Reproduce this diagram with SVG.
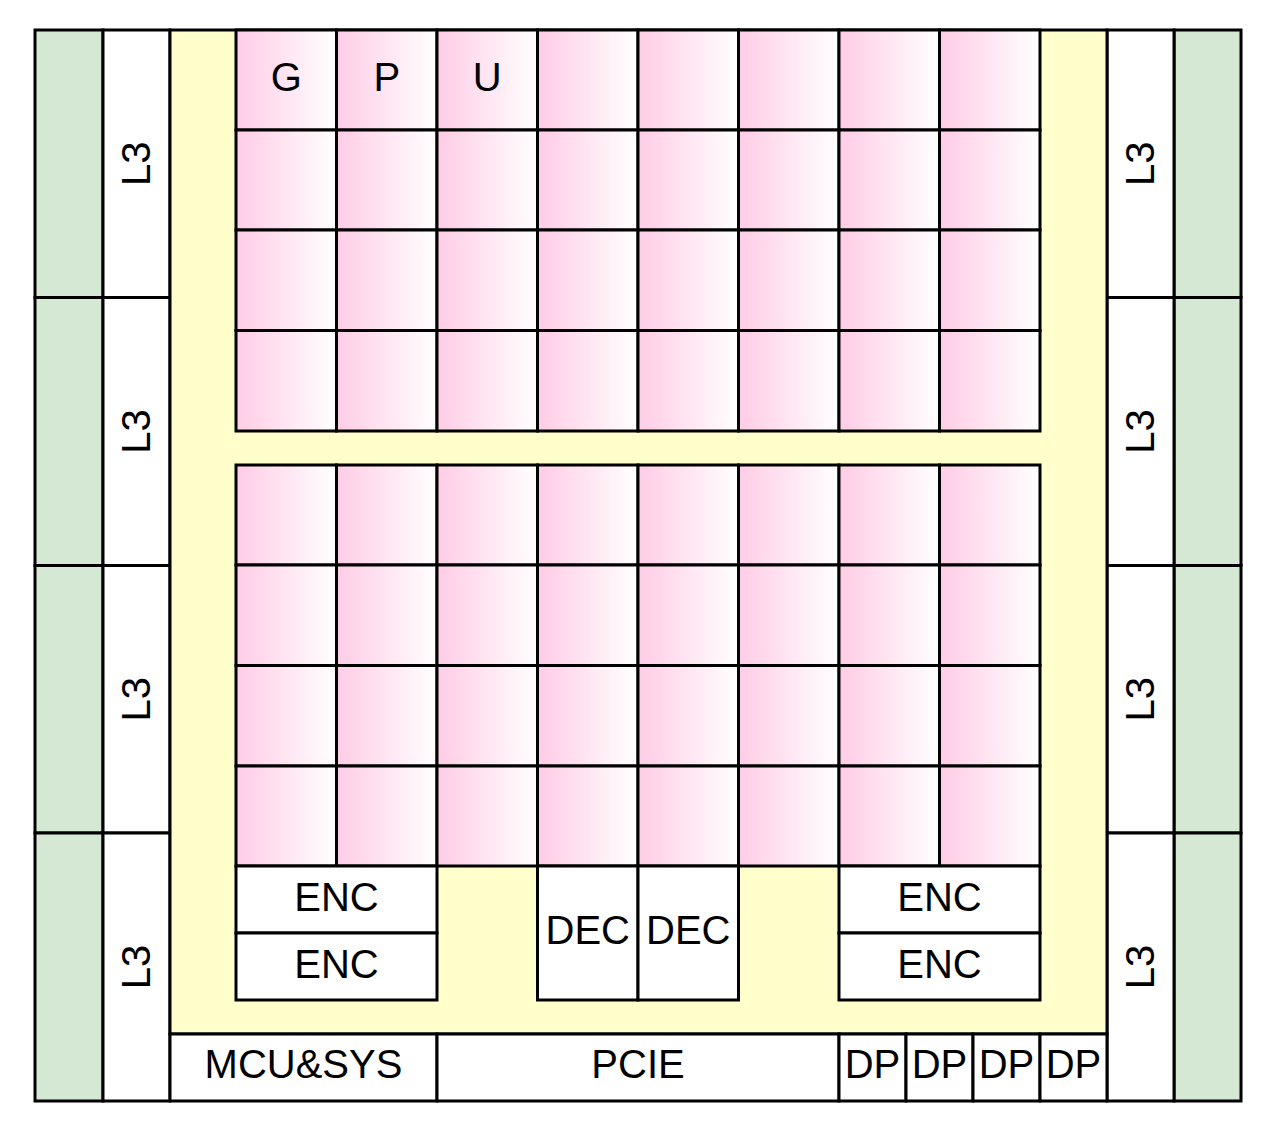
<svg xmlns="http://www.w3.org/2000/svg" width="1279" height="1135" viewBox="0 0 1279 1135">
<defs>
<linearGradient id="pk" x1="0" y1="0" x2="1" y2="0">
<stop offset="0" stop-color="#ffcce6"/>
<stop offset="1" stop-color="#ffffff"/>
</linearGradient>
<style>
rect{stroke:#000;stroke-width:3}
.g{fill:#d5e8d4}
.w{fill:#fff}
.y{fill:#ffffcc}
.p{fill:url(#pk)}
text{font-family:"Liberation Sans",Arial,sans-serif;font-size:40px;fill:#000;text-anchor:middle}
</style>
</defs>
<rect width="1279" height="1135" fill="#fff" style="stroke:none"/>
<g id="green-left">
<rect class="g" x="35" y="30" width="68" height="267.5"/>
<rect class="g" x="35" y="297.5" width="68" height="268"/>
<rect class="g" x="35" y="565.5" width="68" height="267.5"/>
<rect class="g" x="35" y="833" width="68" height="268"/>
</g>
<g id="green-right">
<rect class="g" x="1174" y="30" width="67" height="267.5"/>
<rect class="g" x="1174" y="297.5" width="67" height="268"/>
<rect class="g" x="1174" y="565.5" width="67" height="267.5"/>
<rect class="g" x="1174" y="833" width="67" height="268"/>
</g>
<g id="l3-left-1"><rect class="w" x="103" y="30" width="67" height="267.5"/><text transform="translate(136.5,163.75) rotate(-90)" x="0" y="13">L3</text></g>
<g id="l3-left-2"><rect class="w" x="103" y="297.5" width="67" height="268"/><text transform="translate(136.5,431.5) rotate(-90)" x="0" y="13">L3</text></g>
<g id="l3-left-3"><rect class="w" x="103" y="565.5" width="67" height="267.5"/><text transform="translate(136.5,699.25) rotate(-90)" x="0" y="13">L3</text></g>
<g id="l3-left-4"><rect class="w" x="103" y="833" width="67" height="268"/><text transform="translate(136.5,967) rotate(-90)" x="0" y="13">L3</text></g>
<g id="l3-right-1"><rect class="w" x="1107" y="30" width="67" height="267.5"/><text transform="translate(1140.5,163.75) rotate(-90)" x="0" y="13">L3</text></g>
<g id="l3-right-2"><rect class="w" x="1107" y="297.5" width="67" height="268"/><text transform="translate(1140.5,431.5) rotate(-90)" x="0" y="13">L3</text></g>
<g id="l3-right-3"><rect class="w" x="1107" y="565.5" width="67" height="267.5"/><text transform="translate(1140.5,699.25) rotate(-90)" x="0" y="13">L3</text></g>
<g id="l3-right-4"><rect class="w" x="1107" y="833" width="67" height="268"/><text transform="translate(1140.5,967) rotate(-90)" x="0" y="13">L3</text></g>
<g id="soc"><rect class="y" x="170" y="30" width="937" height="1004"/></g>
<g id="gpu-top">
<g id="t-r0">
<g id="t00"><rect class="p" x="236" y="30" width="100.5" height="100"/><text x="286.25" y="91">G</text></g>
<g id="t01"><rect class="p" x="336.5" y="30" width="100.5" height="100"/><text x="386.75" y="91">P</text></g>
<g id="t02"><rect class="p" x="437" y="30" width="100.5" height="100"/><text x="487.25" y="91">U</text></g>
<g id="t03"><rect class="p" x="537.5" y="30" width="100.5" height="100"/></g>
<g id="t04"><rect class="p" x="638" y="30" width="100.5" height="100"/></g>
<g id="t05"><rect class="p" x="738.5" y="30" width="100.5" height="100"/></g>
<g id="t06"><rect class="p" x="839" y="30" width="100.5" height="100"/></g>
<g id="t07"><rect class="p" x="939.5" y="30" width="100.5" height="100"/></g>
</g>
<g id="t-r1">
<g id="t10"><rect class="p" x="236" y="130" width="100.5" height="100"/></g>
<g id="t11"><rect class="p" x="336.5" y="130" width="100.5" height="100"/></g>
<g id="t12"><rect class="p" x="437" y="130" width="100.5" height="100"/></g>
<g id="t13"><rect class="p" x="537.5" y="130" width="100.5" height="100"/></g>
<g id="t14"><rect class="p" x="638" y="130" width="100.5" height="100"/></g>
<g id="t15"><rect class="p" x="738.5" y="130" width="100.5" height="100"/></g>
<g id="t16"><rect class="p" x="839" y="130" width="100.5" height="100"/></g>
<g id="t17"><rect class="p" x="939.5" y="130" width="100.5" height="100"/></g>
</g>
<g id="t-r2">
<g id="t20"><rect class="p" x="236" y="230" width="100.5" height="100.5"/></g>
<g id="t21"><rect class="p" x="336.5" y="230" width="100.5" height="100.5"/></g>
<g id="t22"><rect class="p" x="437" y="230" width="100.5" height="100.5"/></g>
<g id="t23"><rect class="p" x="537.5" y="230" width="100.5" height="100.5"/></g>
<g id="t24"><rect class="p" x="638" y="230" width="100.5" height="100.5"/></g>
<g id="t25"><rect class="p" x="738.5" y="230" width="100.5" height="100.5"/></g>
<g id="t26"><rect class="p" x="839" y="230" width="100.5" height="100.5"/></g>
<g id="t27"><rect class="p" x="939.5" y="230" width="100.5" height="100.5"/></g>
</g>
<g id="t-r3">
<g id="t30"><rect class="p" x="236" y="330.5" width="100.5" height="100.5"/></g>
<g id="t31"><rect class="p" x="336.5" y="330.5" width="100.5" height="100.5"/></g>
<g id="t32"><rect class="p" x="437" y="330.5" width="100.5" height="100.5"/></g>
<g id="t33"><rect class="p" x="537.5" y="330.5" width="100.5" height="100.5"/></g>
<g id="t34"><rect class="p" x="638" y="330.5" width="100.5" height="100.5"/></g>
<g id="t35"><rect class="p" x="738.5" y="330.5" width="100.5" height="100.5"/></g>
<g id="t36"><rect class="p" x="839" y="330.5" width="100.5" height="100.5"/></g>
<g id="t37"><rect class="p" x="939.5" y="330.5" width="100.5" height="100.5"/></g>
</g>
</g>
<g id="gpu-bottom">
<g id="b-r0">
<g id="b00"><rect class="p" x="236" y="465" width="100.5" height="100"/></g>
<g id="b01"><rect class="p" x="336.5" y="465" width="100.5" height="100"/></g>
<g id="b02"><rect class="p" x="437" y="465" width="100.5" height="100"/></g>
<g id="b03"><rect class="p" x="537.5" y="465" width="100.5" height="100"/></g>
<g id="b04"><rect class="p" x="638" y="465" width="100.5" height="100"/></g>
<g id="b05"><rect class="p" x="738.5" y="465" width="100.5" height="100"/></g>
<g id="b06"><rect class="p" x="839" y="465" width="100.5" height="100"/></g>
<g id="b07"><rect class="p" x="939.5" y="465" width="100.5" height="100"/></g>
</g>
<g id="b-r1">
<g id="b10"><rect class="p" x="236" y="565" width="100.5" height="100.5"/></g>
<g id="b11"><rect class="p" x="336.5" y="565" width="100.5" height="100.5"/></g>
<g id="b12"><rect class="p" x="437" y="565" width="100.5" height="100.5"/></g>
<g id="b13"><rect class="p" x="537.5" y="565" width="100.5" height="100.5"/></g>
<g id="b14"><rect class="p" x="638" y="565" width="100.5" height="100.5"/></g>
<g id="b15"><rect class="p" x="738.5" y="565" width="100.5" height="100.5"/></g>
<g id="b16"><rect class="p" x="839" y="565" width="100.5" height="100.5"/></g>
<g id="b17"><rect class="p" x="939.5" y="565" width="100.5" height="100.5"/></g>
</g>
<g id="b-r2">
<g id="b20"><rect class="p" x="236" y="665.5" width="100.5" height="100.5"/></g>
<g id="b21"><rect class="p" x="336.5" y="665.5" width="100.5" height="100.5"/></g>
<g id="b22"><rect class="p" x="437" y="665.5" width="100.5" height="100.5"/></g>
<g id="b23"><rect class="p" x="537.5" y="665.5" width="100.5" height="100.5"/></g>
<g id="b24"><rect class="p" x="638" y="665.5" width="100.5" height="100.5"/></g>
<g id="b25"><rect class="p" x="738.5" y="665.5" width="100.5" height="100.5"/></g>
<g id="b26"><rect class="p" x="839" y="665.5" width="100.5" height="100.5"/></g>
<g id="b27"><rect class="p" x="939.5" y="665.5" width="100.5" height="100.5"/></g>
</g>
<g id="b-r3">
<g id="b30"><rect class="p" x="236" y="766" width="100.5" height="100"/></g>
<g id="b31"><rect class="p" x="336.5" y="766" width="100.5" height="100"/></g>
<g id="b32"><rect class="p" x="437" y="766" width="100.5" height="100"/></g>
<g id="b33"><rect class="p" x="537.5" y="766" width="100.5" height="100"/></g>
<g id="b34"><rect class="p" x="638" y="766" width="100.5" height="100"/></g>
<g id="b35"><rect class="p" x="738.5" y="766" width="100.5" height="100"/></g>
<g id="b36"><rect class="p" x="839" y="766" width="100.5" height="100"/></g>
<g id="b37"><rect class="p" x="939.5" y="766" width="100.5" height="100"/></g>
</g>
</g>
<g id="enc-l1"><rect class="w" x="236" y="866" width="201" height="67"/><text x="336.5" y="911">ENC</text></g>
<g id="enc-l2"><rect class="w" x="236" y="933" width="201" height="67"/><text x="336.5" y="978">ENC</text></g>
<g id="dec-1"><rect class="w" x="537.5" y="866" width="100.5" height="134"/><text x="587.75" y="944">DEC</text></g>
<g id="dec-2"><rect class="w" x="638" y="866" width="100.5" height="134"/><text x="688.25" y="944">DEC</text></g>
<g id="enc-r1"><rect class="w" x="839" y="866" width="201" height="67"/><text x="939.5" y="911">ENC</text></g>
<g id="enc-r2"><rect class="w" x="839" y="933" width="201" height="67"/><text x="939.5" y="978">ENC</text></g>
<g id="mcu"><rect class="w" x="170" y="1034" width="267" height="67"/><text x="303.5" y="1078">MCU&amp;SYS</text></g>
<g id="pcie"><rect class="w" x="437" y="1034" width="402" height="67"/><text x="638" y="1078">PCIE</text></g>
<g id="dp-1"><rect class="w" x="839" y="1034" width="67" height="67"/><text x="872.5" y="1078">DP</text></g>
<g id="dp-2"><rect class="w" x="906" y="1034" width="67" height="67"/><text x="939.5" y="1078">DP</text></g>
<g id="dp-3"><rect class="w" x="973" y="1034" width="67" height="67"/><text x="1006.5" y="1078">DP</text></g>
<g id="dp-4"><rect class="w" x="1040" y="1034" width="67" height="67"/><text x="1073.5" y="1078">DP</text></g>
<g id="connectors"></g>
</svg>
